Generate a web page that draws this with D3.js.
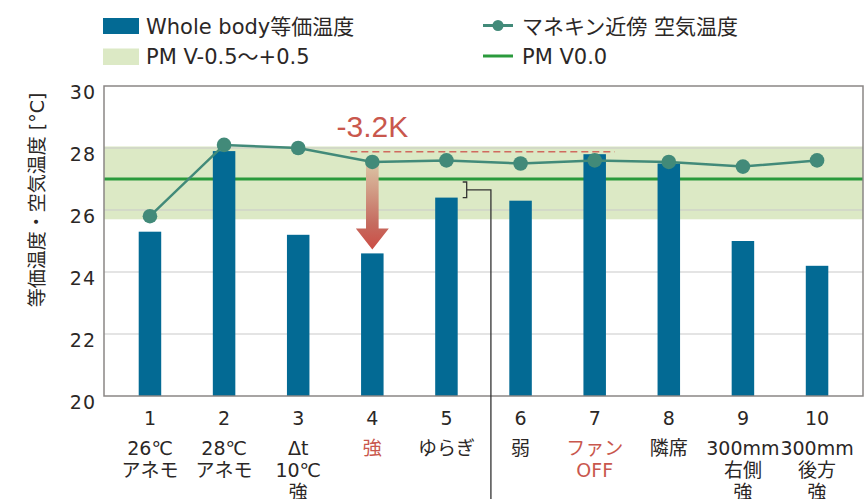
<!DOCTYPE html>
<html>
<head>
<meta charset="utf-8">
<script src="https://cdn.jsdelivr.net/npm/d3@7"></script>
<style>
  html, body { margin: 0; padding: 0; background: #fff; }
  svg { display: block; font-family: "DejaVu Sans", "Noto Sans CJK JP", sans-serif; }
</style>
</head>
<body>
<svg id="chart" width="864" height="499"></svg>
<script>
// chart data
const categories = ['1', '2', '3', '4', '5', '6', '7', '8', '9', '10'];
const subLabels = [
    ['26℃', 'アネモ'], ['28℃', 'アネモ'], ['Δt', '10℃', '強'], ['強'], ['ゆらぎ'],
    ['弱'], ['ファン', 'OFF'], ['隣席'], ['300mm', '右側', '強'], ['300mm', '後方', '強']
];
const redLabels = ['4', '7'];
const wholeBody = [25.3, 27.9, 25.2, 24.6, 26.4, 26.3, 27.8, 27.5, 25.0, 24.2];
const airTemp = [25.8, 28.1, 28.0, 27.55, 27.6, 27.5, 27.6, 27.55, 27.4, 27.6];
const pmBand = [25.7, 28.05];
const pmZero = 27.0;
const yTicks = [20, 22, 24, 26, 28, 30];
const dropLevel = 27.88;     // dashed reference line
const dropText = '-3.2K';

const TEXT = '#2b2726';
const RED = '#c9574d';
const BAR = '#036a94';
const TEAL = '#428a79';
const GREEN = '#2a9a3c';

const svg = d3.select('#chart');
const plot = { left: 104, right: 863, top: 86, bottom: 396 };

const x = d3.scalePoint().domain(categories).range([plot.left, plot.right]).padding(0.62);
const y = d3.scaleLinear().domain([20, 30]).range([plot.bottom, plot.top]);
const barW = 22.5;

// PMV band + grid + PMV 0 line
svg.append('rect')
    .attr('x', plot.left).attr('width', plot.right - plot.left)
    .attr('y', y(pmBand[1])).attr('height', y(pmBand[0]) - y(pmBand[1]))
    .attr('fill', '#dce9c5');

svg.append('g').selectAll('line')
    .data(yTicks.filter(d => d > 20 && d < 30))
    .join('line')
    .attr('x1', plot.left).attr('x2', plot.right)
    .attr('y1', d => y(d)).attr('y2', d => y(d))
    .attr('stroke', '#c9c9c9').attr('stroke-width', 1);

svg.append('line')
    .attr('x1', plot.left).attr('x2', plot.right)
    .attr('y1', y(pmZero)).attr('y2', y(pmZero))
    .attr('stroke', GREEN).attr('stroke-width', 3);

// bars
svg.append('g').selectAll('rect')
    .data(wholeBody)
    .join('rect')
    .attr('x', (d, i) => x(categories[i]) - barW / 2)
    .attr('width', barW)
    .attr('y', d => y(d))
    .attr('height', d => plot.bottom - y(d))
    .attr('fill', BAR);

// frame
svg.append('rect')
    .attr('x', plot.left).attr('y', plot.top)
    .attr('width', plot.right - plot.left).attr('height', plot.bottom - plot.top)
    .attr('fill', 'none').attr('stroke', '#8a8685').attr('stroke-width', 1.5);

// y tick labels
svg.append('g').selectAll('text')
    .data(yTicks)
    .join('text')
    .attr('x', plot.left - 8)
    .attr('y', d => y(d) + 13)
    .attr('text-anchor', 'end')
    .attr('font-size', 19)
    .attr('letter-spacing', 1)
    .attr('fill', TEXT)
    .text(d => d);

// y title
svg.append('text')
    .attr('transform', 'translate(44,200) rotate(-90)')
    .attr('text-anchor', 'middle')
    .attr('font-size', 19)
    .attr('fill', TEXT)
    .text('等価温度・空気温度 [°C]');

// x labels
const xl = svg.append('g').selectAll('g')
    .data(categories)
    .join('g')
    .attr('transform', d => `translate(${x(d)},0)`);

xl.append('text')
    .attr('y', 424.5)
    .attr('text-anchor', 'middle')
    .attr('font-size', 19)
    .attr('fill', TEXT)
    .text(d => d);

xl.each(function (d, i) {
    d3.select(this).selectAll('text.sub')
        .data(subLabels[i])
        .join('text')
        .attr('class', 'sub')
        .attr('y', (s, j) => 455 + j * 22)
        .attr('text-anchor', 'middle')
        .attr('font-size', 19)
        .attr('fill', redLabels.includes(d) ? RED : TEXT)
        .text(s => s);
});

// bracket + separator between 5 and 6
const step = x.step();
const sepX = x('5') + step * 0.6;
const brX = x('5') + barW / 2 + 9;
svg.append('path')
    .attr('d', `M${brX - 4},${y(pmZero) + 3}H${brX}V${y(wholeBody[4])}H${brX - 4}`
        + `M${brX},${(y(pmZero) + 3 + y(wholeBody[4])) / 2}H${sepX}V499`)
    .attr('fill', 'none').attr('stroke', '#333').attr('stroke-width', 1.3);

// drop annotation
svg.append('line')
    .attr('x1', x('4') - 22).attr('x2', x('7') + 20)
    .attr('y1', y(dropLevel)).attr('y2', y(dropLevel))
    .attr('stroke', '#d06a5f').attr('stroke-width', 1.5)
    .attr('stroke-dasharray', '7,4');

const defs = svg.append('defs');
const grad = defs.append('linearGradient')
    .attr('id', 'arrowGrad').attr('x1', 0).attr('x2', 0).attr('y1', 0).attr('y2', 1);
grad.append('stop').attr('offset', '0%').attr('stop-color', '#dcc6a6');
grad.append('stop').attr('offset', '70%').attr('stop-color', '#c56c60');
grad.append('stop').attr('offset', '100%').attr('stop-color', '#cc4d45');

const ax = x('4');
const aTop = y(airTemp[3]);
const aTip = y(wholeBody[3]) - 4;
const headH = 21, headW = 16.5, shaftW = 6.3;
svg.append('path')
    .attr('d', `M${ax - shaftW},${aTop}H${ax + shaftW}V${aTip - headH}H${ax + headW}`
        + `L${ax},${aTip}L${ax - headW},${aTip - headH}H${ax - shaftW}Z`)
    .attr('fill', 'url(#arrowGrad)');

svg.append('text')
    .attr('x', ax).attr('y', 137)
    .attr('text-anchor', 'middle')
    .attr('font-family', '"Liberation Sans", sans-serif')
    .attr('font-size', 30)
    .attr('fill', RED)
    .text(dropText);

// air temperature line
svg.append('path')
    .datum(airTemp)
    .attr('d', d3.line().x((d, i) => x(categories[i])).y(d => y(d)))
    .attr('fill', 'none').attr('stroke', TEAL).attr('stroke-width', 2.5);

svg.append('g').selectAll('circle')
    .data(airTemp)
    .join('circle')
    .attr('cx', (d, i) => x(categories[i]))
    .attr('cy', d => y(d))
    .attr('r', 7.3)
    .attr('fill', TEAL);

// legend
const lg = svg.append('g').attr('font-size', 21).attr('fill', TEXT);
lg.append('rect').attr('x', 103).attr('y', 18).attr('width', 36).attr('height', 16).attr('fill', BAR);
lg.append('text').attr('x', 146).attr('y', 33.5).text('Whole body等価温度');
lg.append('rect').attr('x', 103).attr('y', 48.5).attr('width', 36).attr('height', 16.5).attr('fill', '#dce9c5');
lg.append('text').attr('x', 146).attr('y', 64).text('PM V-0.5〜+0.5');

lg.append('line').attr('x1', 483).attr('x2', 513).attr('y1', 25.5).attr('y2', 25.5)
    .attr('stroke', TEAL).attr('stroke-width', 3);
lg.append('circle').attr('cx', 498).attr('cy', 25.5).attr('r', 5.5).attr('fill', TEAL);
lg.append('text').attr('x', 522).attr('y', 33.5).text('マネキン近傍 空気温度');
lg.append('line').attr('x1', 483).attr('x2', 513).attr('y1', 56).attr('y2', 56)
    .attr('stroke', GREEN).attr('stroke-width', 3);
lg.append('text').attr('x', 522).attr('y', 64).text('PM V0.0');
</script>
</body>
</html>
